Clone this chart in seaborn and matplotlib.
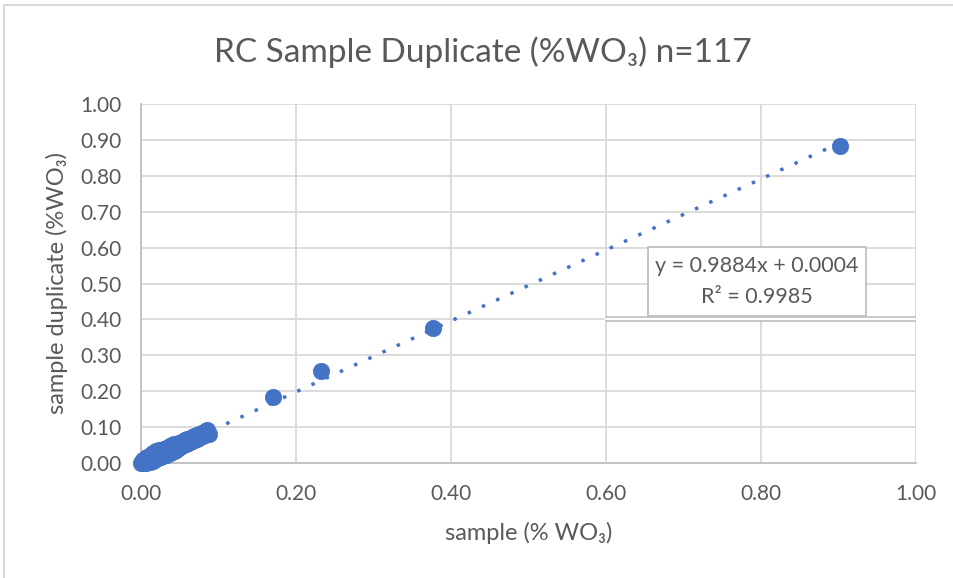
import matplotlib
matplotlib.use("Agg")
import matplotlib.pyplot as plt
from matplotlib.lines import Line2D
from matplotlib.patches import Rectangle
import numpy as np
import pandas as pd
import seaborn as sns

# RC sample vs field duplicate assays (% WO3)
sample = [
    0.000, 0.001, 0.002, 0.002, 0.003, 0.003, 0.004, 0.004, 0.005, 0.005,
    0.006, 0.006, 0.007, 0.007, 0.008, 0.008, 0.009, 0.009, 0.010, 0.010,
    0.011, 0.011, 0.012, 0.012, 0.013, 0.013, 0.014, 0.014, 0.015, 0.015,
    0.016, 0.016, 0.017, 0.018, 0.018, 0.019, 0.020, 0.020, 0.021, 0.022,
    0.022, 0.023, 0.024, 0.024, 0.025, 0.026, 0.026, 0.027, 0.028, 0.028,
    0.029, 0.030, 0.030, 0.031, 0.032, 0.032, 0.033, 0.034, 0.034, 0.035,
    0.036, 0.036, 0.037, 0.038, 0.038, 0.039, 0.040, 0.040, 0.041, 0.042,
    0.043, 0.044, 0.044, 0.045, 0.046, 0.047, 0.048, 0.048, 0.049, 0.050,
    0.051, 0.052, 0.053, 0.054, 0.055, 0.056, 0.057, 0.058, 0.059, 0.060,
    0.061, 0.062, 0.063, 0.064, 0.065, 0.066, 0.067, 0.068, 0.069, 0.070,
    0.071, 0.072, 0.073, 0.074, 0.075, 0.076, 0.077, 0.078, 0.079, 0.080,
    0.081, 0.085, 0.088, 0.170, 0.232, 0.377, 0.902,
]
duplicate = [
    0.000, 0.003, 0.000, 0.006, 0.001, 0.008, 0.003, 0.000, 0.010, 0.004,
    0.001, 0.012, 0.005, 0.014, 0.003, 0.016, 0.007, 0.002, 0.018, 0.008,
    0.005, 0.020, 0.010, 0.003, 0.022, 0.011, 0.008, 0.026, 0.012, 0.006,
    0.029, 0.013, 0.021, 0.031, 0.012, 0.026, 0.015, 0.033, 0.021, 0.013,
    0.029, 0.035, 0.017, 0.028, 0.033, 0.020, 0.037, 0.022, 0.031, 0.019,
    0.036, 0.024, 0.039, 0.028, 0.022, 0.039, 0.030, 0.025, 0.043, 0.032,
    0.027, 0.045, 0.034, 0.029, 0.048, 0.036, 0.032, 0.050, 0.039, 0.034,
    0.052, 0.039, 0.048, 0.037, 0.054, 0.042, 0.052, 0.043, 0.057, 0.045,
    0.054, 0.047, 0.059, 0.049, 0.061, 0.052, 0.063, 0.054, 0.060, 0.066,
    0.056, 0.068, 0.059, 0.064, 0.070, 0.061, 0.072, 0.064, 0.074, 0.066,
    0.076, 0.068, 0.078, 0.070, 0.080, 0.072, 0.082, 0.074, 0.084, 0.076,
    0.087, 0.091, 0.081, 0.183, 0.255, 0.377, 0.884,
]

# Linear trend as reported on the chart
slope = 0.9884
intercept = 0.0004
r_squared = 0.9985

x_ticks = [0.0, 0.2, 0.4, 0.6, 0.8, 1.0]
y_ticks = [0.0, 0.1, 0.2, 0.3, 0.4, 0.5, 0.6, 0.7, 0.8, 0.9, 1.0]

title = "RC Sample Duplicate (%WO\u2083) n=117"
x_label = "sample (% WO\u2083)"
y_label = "sample duplicate (%WO\u2083)"

BLUE = "#4472C4"
TEXT = "#595959"
GRID = "#d9d9d9"
AXIS = "#bfbfbf"

sns.set_theme(style="white")
plt.rcParams["font.family"] = ["Lato", "DejaVu Sans"]

df = pd.DataFrame({"sample": sample, "duplicate": duplicate})

fig = plt.figure(figsize=(9.54, 5.78), dpi=100)
ax = fig.add_axes([141 / 954, 1 - 463 / 578, (916 - 141) / 954, (463 - 104) / 578])

ax.set_xlim(0, 1)
ax.set_ylim(0, 1)
ax.set_xticks(x_ticks)
ax.set_yticks(y_ticks)
ax.set_xticklabels([f"{v:.2f}" for v in x_ticks])
ax.set_yticklabels([f"{v:.2f}" for v in y_ticks])
ax.grid(True, color=GRID, linewidth=1.3, zorder=0)
ax.set_axisbelow(True)
for side in ["top", "right"]:
    ax.spines[side].set_visible(False)
for side in ["left", "bottom"]:
    ax.spines[side].set_color(AXIS)
    ax.spines[side].set_linewidth(1.3)
    ax.spines[side].set_zorder(1)
ax.tick_params(axis="both", length=0, labelsize=15, colors=TEXT)
ax.tick_params(axis="x", pad=15)
ax.tick_params(axis="y", pad=14)

# Dotted trend line
x_end = max(sample)
tx = np.array([0.0, x_end])
ax.plot(tx, slope * tx + intercept, color=BLUE, linewidth=2.5,
        linestyle=(0, (1, 3.5)), dash_capstyle="butt", zorder=2)

sns.scatterplot(data=df, x="sample", y="duplicate", ax=ax, color=BLUE,
                s=140, edgecolor=BLUE, linewidth=0.5, zorder=3, clip_on=False,
                legend=False)

ax.set_xlabel(x_label, fontsize=17, color=TEXT, labelpad=13)
ax.set_ylabel(y_label, fontsize=17, color=TEXT, labelpad=9)
fig.text(483 / 954, 1 - 52 / 578, title, fontsize=24, color=TEXT,
         ha="center", va="center")

# Equation box
box = Rectangle((0.654, 0.409), 0.281, 0.193, transform=ax.transData,
                facecolor="white", edgecolor=AXIS, linewidth=1.3, zorder=4)
ax.add_patch(box)
ax.text(0.7945, 0.548, f"y = {slope:.4f}x + {intercept:.4f}", fontsize=15.5,
        color=TEXT, ha="center", va="center", zorder=5)
ax.text(0.7945, 0.462, f"R\u00b2 = {r_squared:.4f}", fontsize=15.5,
        color=TEXT, ha="center", va="center", zorder=5)
ax.add_line(Line2D([0.6, 1.0], [0.4, 0.4], color="white", linewidth=1.6, zorder=1))
for yy in (0.3955, 0.4065):
    ax.add_line(Line2D([0.6, 1.0], [yy, yy], color=AXIS, linewidth=1.2, zorder=1))

# Chart frame (top and left edges)
fig.add_artist(Line2D([4 / 954, 1.0], [1 - 5 / 578, 1 - 5 / 578],
                      color=GRID, linewidth=1.5, transform=fig.transFigure))
fig.add_artist(Line2D([4 / 954, 4 / 954], [0.0, 1 - 5 / 578],
                      color=GRID, linewidth=1.5, transform=fig.transFigure))

fig.savefig("out.png", dpi=100, facecolor="white")
